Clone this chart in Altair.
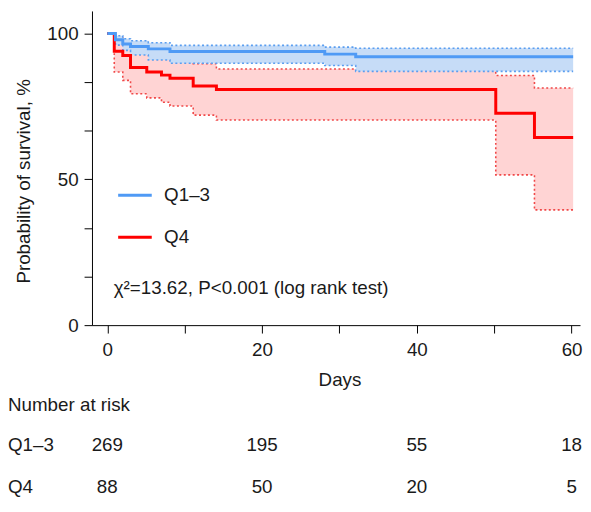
import altair as alt
import pandas as pd

# ---------------- data ----------------
groups = ["Q1–3", "Q4"]

q13_time = [0, 1.05, 2.0, 3.0, 5.3, 8.1, 28.1, 32.1, 60.2]
q13_surv = [100, 97.8, 96.4, 95.5, 94.7, 93.8, 92.9, 92.0, 92.0]
q13_upper = [100, 99.2, 98.2, 97.5, 96.8, 95.9, 95.3, 94.9, 94.9]
q13_lower = [100, 96.0, 94.2, 92.6, 90.9, 89.8, 89.0, 87.0, 87.0]

q4_time = [0, 0.9, 2.0, 3.0, 5.1, 7.0, 8.1, 11.1, 14.1, 50.2, 55.2, 60.2]
q4_surv = [100, 93.9, 92.4, 88.3, 86.8, 85.7, 84.6, 82.0, 80.8, 72.6, 64.3, 64.3]
q4_upper = [100, 98.6, 97.6, 95.0, 94.0, 93.0, 92.0, 89.6, 87.8, 85.6, 81.3, 81.3]
q4_lower = [100, 86.8, 83.9, 79.3, 77.9, 76.4, 75.1, 72.0, 70.3, 51.5, 39.5, 39.5]

risk_days = [0, 20, 40, 60]
risk_q13 = [269, 195, 55, 18]
risk_q4 = [88, 50, 20, 5]

x_ticks = [0, 10, 20, 30, 40, 50, 60]
y_ticks = [0, 100 / 6, 200 / 6, 50, 400 / 6, 500 / 6, 100]

chi_text = "χ²=13.62, P<0.001 (log rank test)"
risk_title = "Number at risk"

# ---------------- styles ----------------
FONT = "Liberation Sans"
FS = 19
TXT = "#1a1a1a"
BLUE_LINE = "#4f9af5"
BLUE_FILL = "#c6dcf7"
BLUE_DOT = "#5a9ef0"
RED_LINE = "#ff0000"
RED_FILL = "#ffd4d4"
RED_DOT = "#f04848"

df_q13 = pd.DataFrame({"time": q13_time, "surv": q13_surv,
                       "lower": q13_lower, "upper": q13_upper, "group": groups[0]})
df_q4 = pd.DataFrame({"time": q4_time, "surv": q4_surv,
                      "lower": q4_lower, "upper": q4_upper, "group": groups[1]})
df_risk13 = pd.DataFrame({"day": risk_days, "n": risk_q13})
df_risk4 = pd.DataFrame({"day": risk_days, "n": risk_q4})

xscale = alt.Scale(domain=[-1.98, 61.09], nice=False, zero=False)
yscale = alt.Scale(domain=[0, 107.7], nice=False, zero=False)
color_scale = alt.Scale(domain=groups, range=[BLUE_LINE, RED_LINE])

x_axis = alt.Axis(values=x_ticks, format="d",
                  labelExpr="datum.value % 20 == 0 ? datum.label : ''",
                  tickSize=8, labelPadding=8, labelFlush=False, labelOverlap=False,
                  labelFont=FONT, labelFontSize=FS, labelColor=TXT,
                  domainColor="black", tickColor="black", grid=False,
                  title="Days", titleFont=FONT, titleFontSize=FS, titleFontWeight="normal",
                  titleColor=TXT, titleX=250.5, titleY=55, titleAlign="center",
                  titleBaseline="middle")
y_axis = alt.Axis(values=y_ticks, format="d",
                  labelExpr="(datum.value == 0 || datum.value == 50 || datum.value == 100) ? datum.label : ''",
                  tickSize=8, labelPadding=6, labelOverlap=False,
                  labelFont=FONT, labelFontSize=FS, labelColor=TXT,
                  domainColor="black", tickColor="black", grid=False,
                  title="Probability of survival, %", titleFont=FONT, titleFontSize=FS,
                  titleFontWeight="normal", titleColor=TXT, titleAngle=270,
                  titleX=-69, titleY=172, titleAlign="center", titleBaseline="middle")

X = alt.X("time:Q", scale=xscale, axis=x_axis)


def band(df, fill):
    return alt.Chart(df).mark_area(interpolate="step-after", color=fill, opacity=1).encode(
        x=X,
        y=alt.Y("lower:Q", scale=yscale, axis=y_axis),
        y2="upper:Q",
    )


def dotted(df, color):
    return alt.Chart(df).transform_fold(["lower", "upper"], as_=["bound", "val"]).mark_line(
        interpolate="step-after", color=color, strokeDash=[2, 2.5], strokeWidth=1.6
    ).encode(
        x=X,
        y=alt.Y("val:Q", scale=yscale, axis=y_axis),
        detail="bound:N",
    )


legend = alt.Legend(title=None, orient="none", legendX=25, legendY=168,
                    direction="vertical", symbolType="stroke", symbolSize=1156,
                    symbolStrokeWidth=3, labelFont=FONT, labelFontSize=FS,
                    labelColor=TXT, labelOffset=11, rowPadding=13.5, padding=0)


def curve(df):
    return alt.Chart(df).mark_line(interpolate="step-after", strokeWidth=3).encode(
        x=X,
        y=alt.Y("surv:Q", scale=yscale, axis=y_axis),
        color=alt.Color("group:N", scale=color_scale, legend=legend),
    )


def label(txt, px, py, align="left"):
    return alt.Chart(pd.DataFrame({"t": [txt]})).mark_text(
        align=align, baseline="middle", font=FONT, fontSize=FS, color=TXT
    ).encode(x=alt.value(px), y=alt.value(py), text="t:N")


def risk_row(df, py):
    return alt.Chart(df).mark_text(
        align="center", baseline="middle", font=FONT, fontSize=FS, color=TXT
    ).encode(
        x=alt.X("day:Q", scale=xscale, axis=x_axis),
        y=alt.value(py),
        text="n:Q",
    )


chart = alt.layer(
    band(df_q4, RED_FILL),
    dotted(df_q4, RED_DOT),
    band(df_q13, BLUE_FILL),
    dotted(df_q13, BLUE_DOT),
    curve(df_q4),
    curve(df_q13),
    label(chi_text, 22, 280.5),
    label(risk_title, -85, 399),
    label(groups[0], -85, 439),
    label(groups[1], -85, 482),
    risk_row(df_risk13, 439),
    risk_row(df_risk4, 482),
).properties(
    width=494, height=318, padding=0
).configure_view(stroke=None)

chart.save("out.html", embed_options={"renderer": "svg", "actions": False})
